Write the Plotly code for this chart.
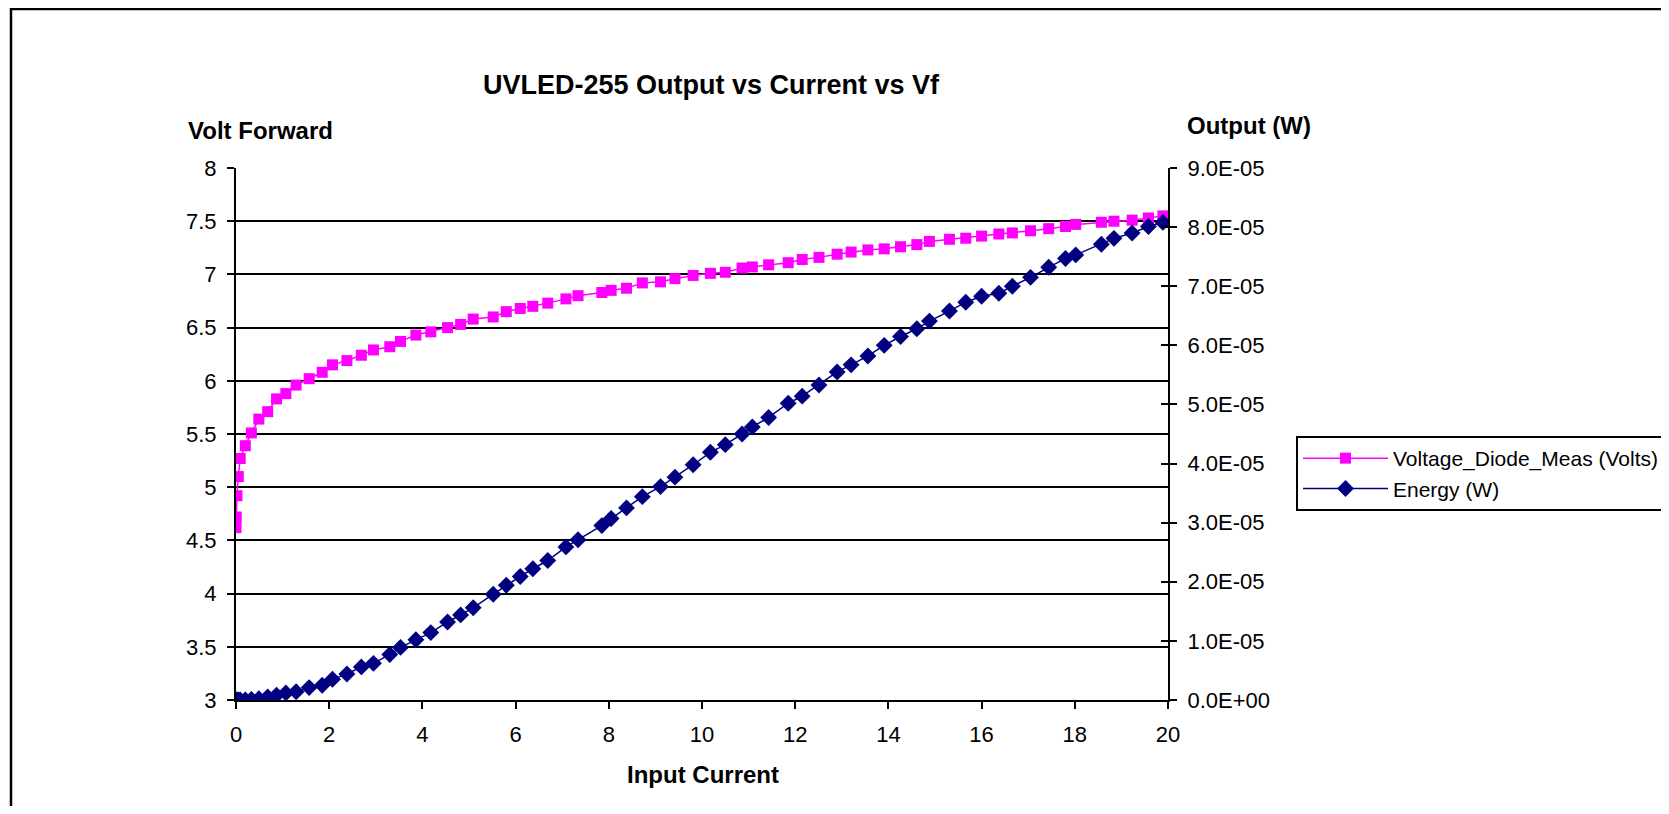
import plotly.graph_objects as go

# Input current (shared x for both series)
current = [0, 0.005, 0.02, 0.05, 0.09, 0.2, 0.33, 0.49, 0.68, 0.87,
           1.07, 1.29, 1.57, 1.85, 2.07, 2.38, 2.69, 2.95, 3.30, 3.53,
           3.86, 4.18, 4.54, 4.82, 5.09, 5.52, 5.80, 6.10, 6.37, 6.69,
           7.08, 7.34, 7.85, 8.05, 8.38, 8.72, 9.11, 9.42, 9.81, 10.18,
           10.50, 10.86, 11.08, 11.43, 11.85, 12.15, 12.51, 12.90, 13.20, 13.56,
           13.91, 14.26, 14.61, 14.88, 15.31, 15.66, 16.00, 16.37, 16.66, 17.05,
           17.44, 17.80, 18.02, 18.57, 18.84, 19.23, 19.58, 19.89]

volts = [4.62, 4.72, 4.92, 5.10, 5.27, 5.39, 5.51, 5.64, 5.71, 5.83,
         5.88, 5.96, 6.02, 6.08, 6.15, 6.19, 6.24, 6.29, 6.32, 6.37,
         6.43, 6.46, 6.50, 6.53, 6.58, 6.60, 6.65, 6.68, 6.70, 6.73,
         6.77, 6.80, 6.83, 6.85, 6.87, 6.92, 6.93, 6.96, 6.99, 7.01,
         7.02, 7.06, 7.07, 7.09, 7.11, 7.14, 7.16, 7.19, 7.21, 7.23,
         7.24, 7.26, 7.28, 7.31, 7.33, 7.34, 7.36, 7.38, 7.39, 7.41,
         7.43, 7.45, 7.47, 7.49, 7.50, 7.51, 7.53, 7.55]

energy = [0, 0, 0, 0, 0, 0, 0.01e-5, 0.02e-5, 0.05e-5, 0.08e-5,
          0.12e-5, 0.14e-5, 0.21e-5, 0.25e-5, 0.35e-5, 0.44e-5, 0.56e-5, 0.62e-5, 0.77e-5, 0.89e-5,
          1.02e-5, 1.14e-5, 1.32e-5, 1.44e-5, 1.56e-5, 1.79e-5, 1.94e-5, 2.09e-5, 2.22e-5, 2.36e-5,
          2.59e-5, 2.71e-5, 2.95e-5, 3.07e-5, 3.25e-5, 3.44e-5, 3.61e-5, 3.77e-5, 3.98e-5, 4.19e-5,
          4.32e-5, 4.50e-5, 4.62e-5, 4.78e-5, 5.02e-5, 5.14e-5, 5.33e-5, 5.55e-5, 5.67e-5, 5.82e-5,
          6.00e-5, 6.15e-5, 6.28e-5, 6.41e-5, 6.58e-5, 6.73e-5, 6.83e-5, 6.88e-5, 7.00e-5, 7.15e-5,
          7.32e-5, 7.47e-5, 7.53e-5, 7.71e-5, 7.81e-5, 7.90e-5, 8.01e-5, 8.08e-5]

x_ticks = [0, 2, 4, 6, 8, 10, 12, 14, 16, 18, 20]
left_ticks = [3, 3.5, 4, 4.5, 5, 5.5, 6, 6.5, 7, 7.5, 8]
right_ticks = [0, 1e-5, 2e-5, 3e-5, 4e-5, 5e-5, 6e-5, 7e-5, 8e-5, 9e-5]

FONT = 'Arial, Liberation Sans, sans-serif'
OFF = 8                      # default body margin of the html page
W, H = 1661, 798
# plot area, in page pixels
L, R, T, B = 236, 1168, 168, 700


def px_x(p):
    return (p - L) / (R - L)


def px_y(p):
    return (B - p) / (B - T)


fig = go.Figure()

fig.add_trace(go.Scatter(
    x=current, y=volts, name='Voltage_Diode_Meas (Volts)', mode='lines+markers',
    line=dict(color='#FF00FF', width=1.5),
    marker=dict(symbol='square', size=11, color='#FF00FF'),
))
fig.add_trace(go.Scatter(
    x=current, y=energy, name='Energy (W)', mode='lines+markers', yaxis='y2',
    line=dict(color='#000080', width=1.5),
    marker=dict(symbol='diamond', size=13, color='#000080'),
))
# empty trace so the inside ticks of the right axis are drawn
fig.add_trace(go.Scatter(x=[], y=[], yaxis='y3', showlegend=False, hoverinfo='skip'))

axis_font = dict(family=FONT, size=22, color='black')
title_font = dict(family=FONT, size=24, color='black')

fig.update_layout(
    width=W, height=H,
    paper_bgcolor='white', plot_bgcolor='white',
    margin=dict(l=L - OFF, r=W - (R - OFF), t=T - OFF, b=H - (B - OFF), pad=0, autoexpand=False),
    font=dict(family=FONT, color='black'),
    showlegend=True,
    legend=dict(
        x=px_x(1296), y=px_y(436), xanchor='left', yanchor='top',
        bgcolor='white', bordercolor='black', borderwidth=2,
        font=dict(family=FONT, size=21, color='black'),
        itemwidth=85, tracegroupgap=0,
    ),
    xaxis=dict(
        range=[0, 20], tickvals=x_ticks, ticks='outside', ticklen=7, tickwidth=1.5,
        tickcolor='black', showline=True, linecolor='black', linewidth=2,
        showgrid=False, zeroline=False, tickfont=axis_font, ticklabelstandoff=7,
    ),
    yaxis=dict(
        range=[3, 8], tickvals=left_ticks, ticks='outside', ticklen=7, tickwidth=1.5,
        tickcolor='black', showline=True, linecolor='black', linewidth=2,
        showgrid=True, gridcolor='black', gridwidth=1.5, zeroline=False,
        tickfont=axis_font, ticklabelstandoff=6,
    ),
    yaxis2=dict(
        range=[0, 9e-5], tickvals=right_ticks, ticktext=[f'{v:.1E}' for v in right_ticks],
        overlaying='y', side='right', anchor='x', ticks='outside', ticklen=7, tickwidth=1.5,
        tickcolor='black', showline=True, linecolor='black', linewidth=2,
        showgrid=False, zeroline=False, tickfont=axis_font, ticklabelstandoff=6,
    ),
    yaxis3=dict(
        range=[0, 9e-5], tickvals=right_ticks, overlaying='y', side='right', anchor='x',
        ticks='inside', ticklen=7, tickwidth=1.5, tickcolor='black',
        showticklabels=False, showgrid=False, zeroline=False, showline=False,
    ),
    shapes=[dict(
        type='rect', xref='paper', yref='paper',
        x0=px_x(11), x1=px_x(1760), y0=px_y(900), y1=px_y(OFF + 1),
        line=dict(color='black', width=2.5), fillcolor='rgba(0,0,0,0)', layer='below',
    )],
    annotations=[
        dict(text='<b>UVLED-255 Output vs Current vs Vf</b>', xref='paper', yref='paper',
             x=px_x(711), y=px_y(85), showarrow=False, xanchor='center', yanchor='middle',
             font=dict(family=FONT, size=27, color='black')),
        dict(text='<b>Volt Forward</b>', xref='paper', yref='paper',
             x=px_x(186), y=px_y(130), showarrow=False, xanchor='left', yanchor='middle',
             font=title_font),
        dict(text='<b>Output (W)</b>', xref='paper', yref='paper',
             x=px_x(1185), y=px_y(125), showarrow=False, xanchor='left', yanchor='middle',
             font=title_font),
        dict(text='<b>Input Current</b>', xref='paper', yref='paper',
             x=px_x(703), y=px_y(774), showarrow=False, xanchor='center', yanchor='middle',
             font=title_font),
    ],
)

fig.write_html('out.html')
